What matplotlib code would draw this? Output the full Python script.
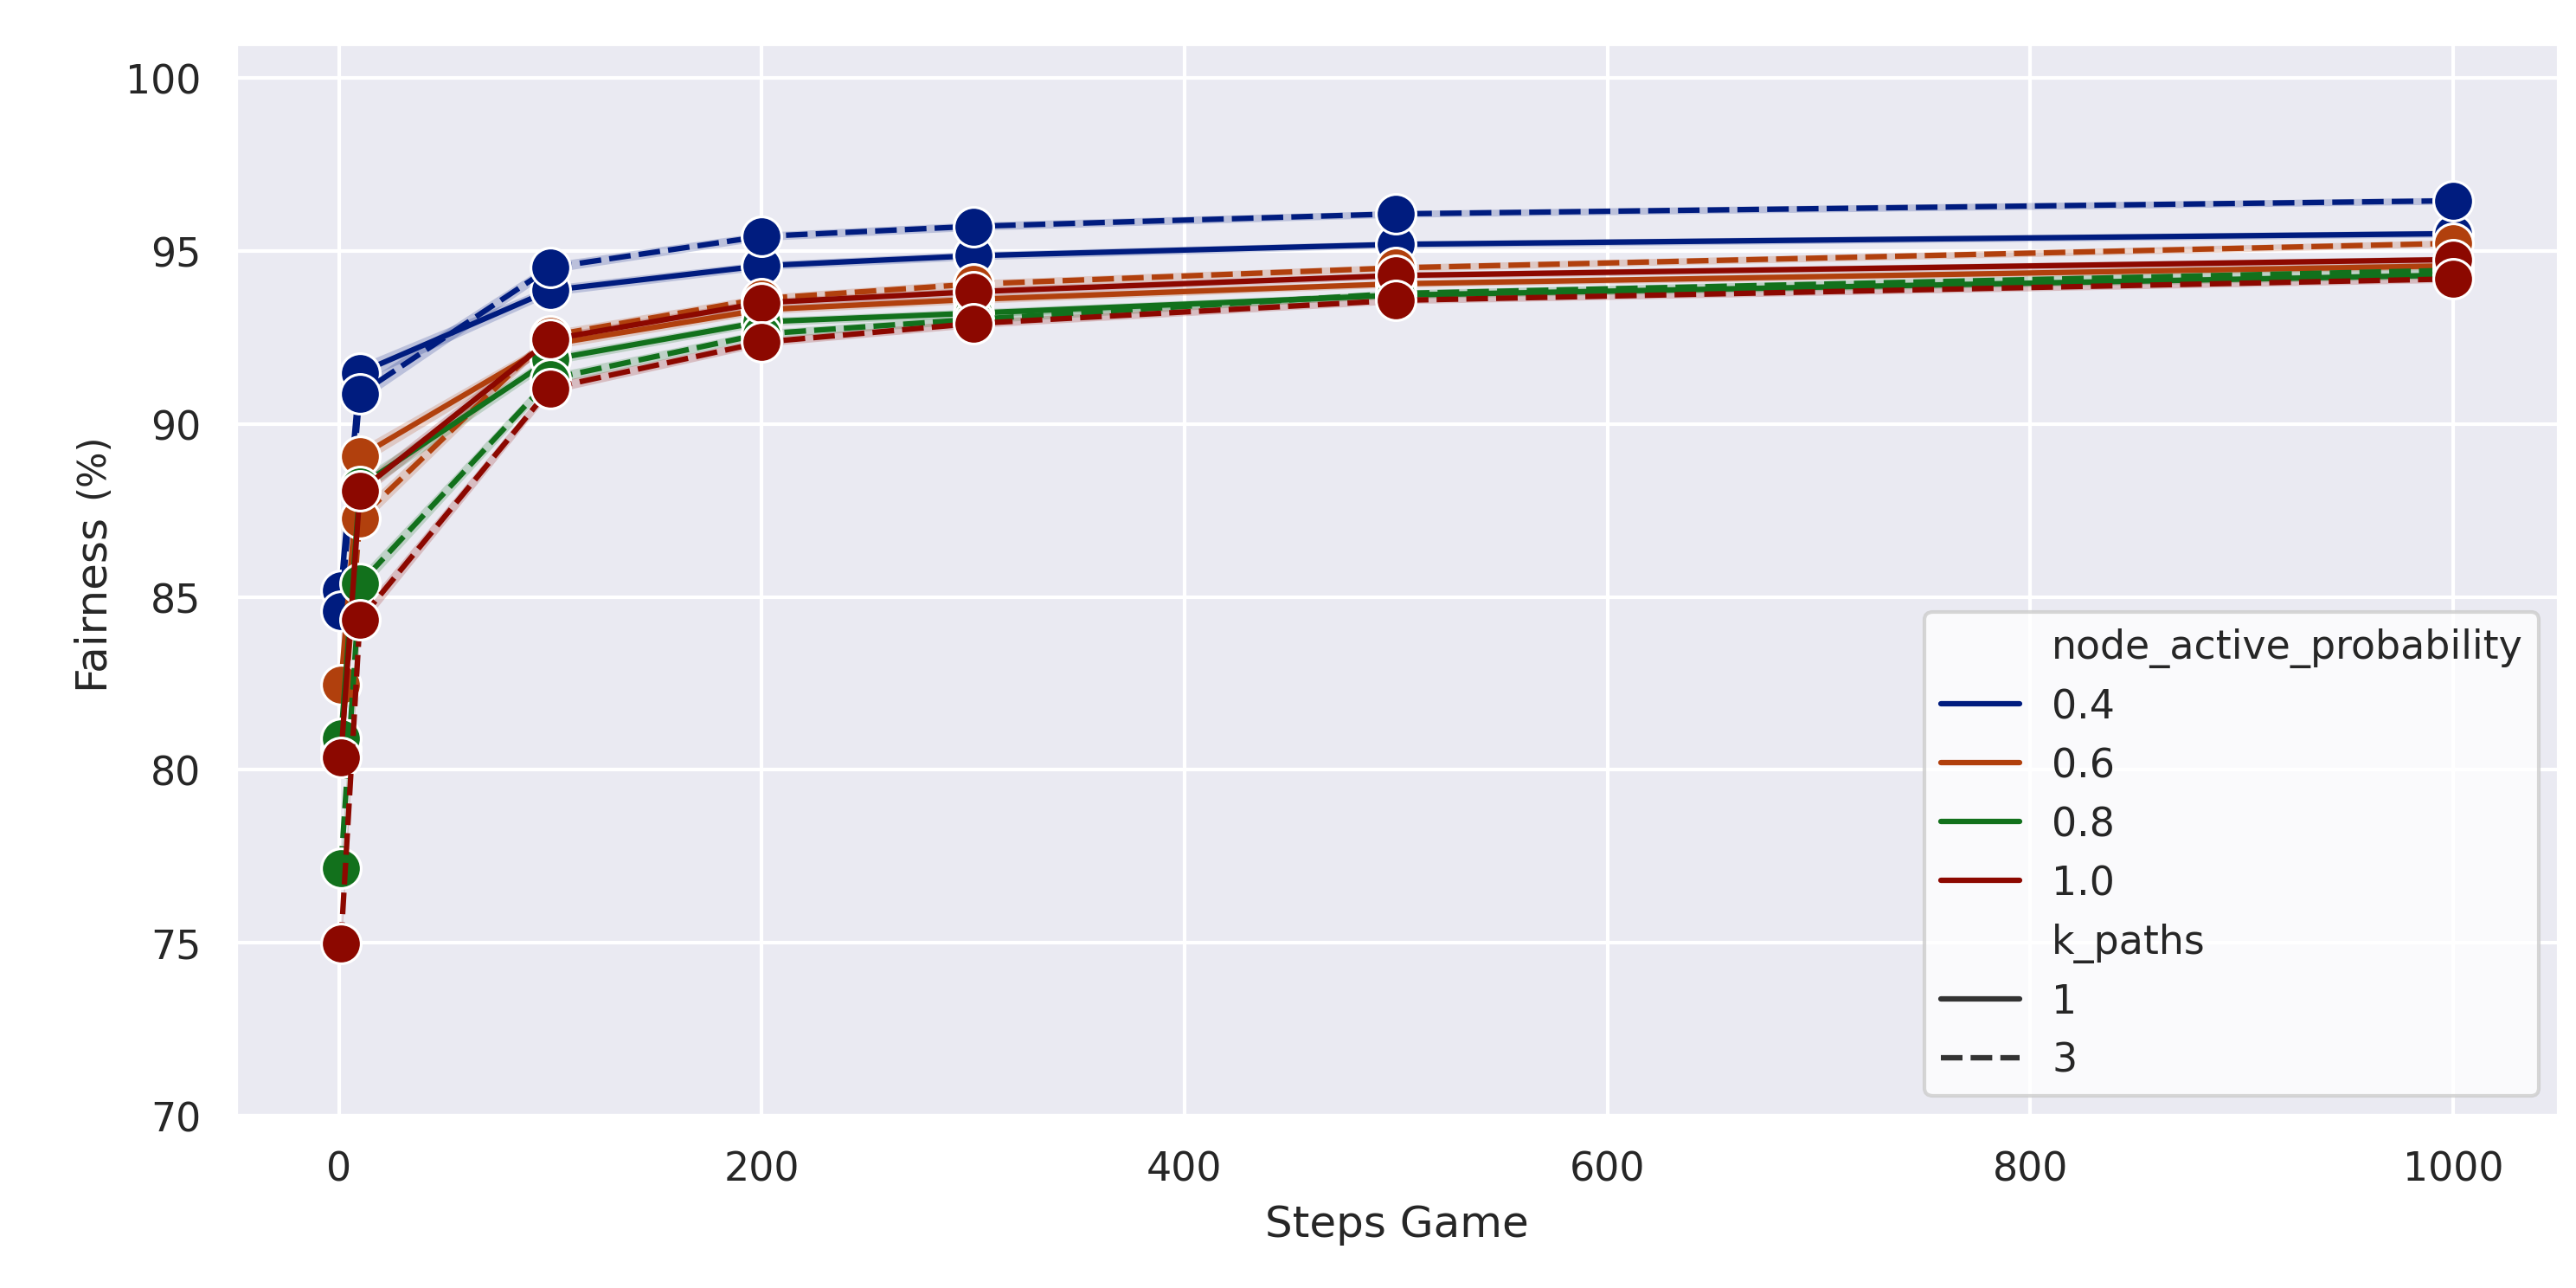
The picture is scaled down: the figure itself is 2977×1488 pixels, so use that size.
import matplotlib
matplotlib.use('Agg')
import matplotlib.pyplot as plt
import seaborn as sns
from matplotlib.lines import Line2D

stepsGame = [1, 10, 100, 200, 300, 500, 1000]
probabilities = ['0.4', '0.6', '0.8', '1.0']
kPaths = ['1', '3']

# fairness (%) per node_active_probability, for k_paths = 1 and k_paths = 3
fairnessK1 = {
    '0.4': [85.2, 91.48, 93.86, 94.57, 94.86, 95.19, 95.5],
    '0.6': [82.45, 89.06, 92.3, 93.3, 93.6, 94.05, 94.57],
    '0.8': [80.9, 88.2, 91.86, 92.95, 93.2, 93.72, 94.3],
    '1.0': [80.36, 88.06, 92.44, 93.5, 93.82, 94.29, 94.75],
}
fairnessK3 = {
    '0.4': [84.6, 90.87, 94.52, 95.42, 95.71, 96.07, 96.45],
    '0.6': [80.6, 87.27, 92.55, 93.62, 94.04, 94.51, 95.22],
    '0.8': [77.17, 85.38, 91.3, 92.6, 93.02, 93.77, 94.44],
    '1.0': [74.97, 84.34, 91.03, 92.36, 92.9, 93.57, 94.19],
}
# half width of the confidence band at each step
bandHalfWidth = [0.3, 0.25, 0.15, 0.12, 0.12, 0.1, 0.1]


def plotFairness():
    sns.set_theme(style='darkgrid')
    colors = sns.color_palette('dark', 4)
    fig, ax = plt.subplots(figsize=(2978 / 300, 1489 / 300), dpi=300)
    fig.subplots_adjust(left=0.0913, right=0.993, bottom=0.1336, top=0.9657)

    for color, prob in zip(colors, probabilities):
        for k, values, dashes in [('1', fairnessK1[prob], None),
                                  ('3', fairnessK3[prob], (4, 1.5))]:
            lower = [v - b for v, b in zip(values, bandHalfWidth)]
            upper = [v + b for v, b in zip(values, bandHalfWidth)]
            ax.fill_between(stepsGame, lower, upper, color=color,
                            alpha=0.2, linewidth=0)
            line, = ax.plot(stepsGame, values, color=color, linewidth=1.5,
                            marker='o', markersize=11,
                            markeredgecolor='white', markeredgewidth=0.75)
            if dashes:
                line.set_dashes(dashes)

    ax.set_ylim(70, 101)
    ax.set_yticks([70, 75, 80, 85, 90, 95, 100])
    ax.set_xlabel('Steps Game', fontsize=12)

    # y label: "Fairness" with a smaller "(%)" after it
    yLabel = ax.set_ylabel('Fairness', fontsize=12)
    yLabel.set_y(0.481)
    ax.annotate('(%)', xy=(1.0, 1.0), xycoords=yLabel,
                xytext=(0, 4), textcoords='offset points',
                rotation=90, ha='right', va='bottom', fontsize=10.5,
                color=yLabel.get_color())

    # legend built like seaborn's hue/style legend
    blank = Line2D([], [], linestyle='none')
    handles = [blank]
    labels = ['node_active_probability']
    for color, prob in zip(colors, probabilities):
        handles.append(Line2D([], [], color=color, linewidth=1.5))
        labels.append(prob)
    handles.append(blank)
    labels.append('k_paths')
    handles.append(Line2D([], [], color='#333333', linewidth=1.5))
    labels.append(kPaths[0])
    handles.append(Line2D([], [], color='#333333', linewidth=1.5,
                          dashes=(4, 1.5)))
    labels.append(kPaths[1])
    leg = ax.legend(handles, labels, loc='lower right', fontsize=11,
                    facecolor='white', framealpha=0.8, edgecolor='0.8')
    leg.get_frame().set_linewidth(1.0)

    fig.savefig('out.png', dpi=300)


plotFairness()
